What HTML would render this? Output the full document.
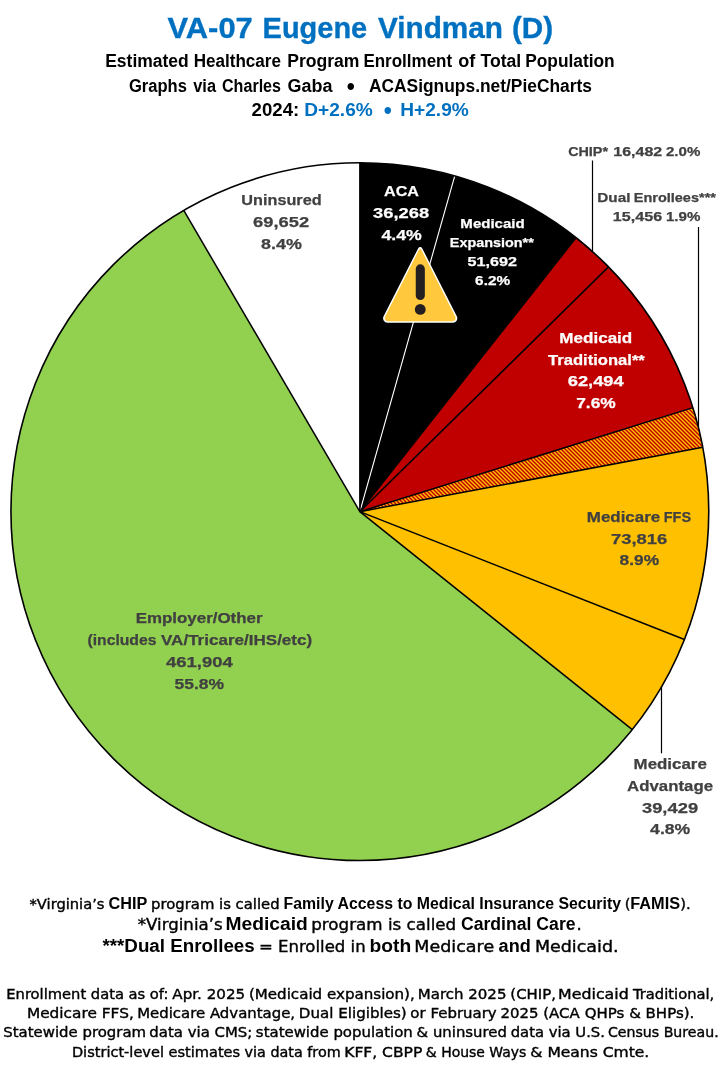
<!DOCTYPE html>
<html><head><meta charset="utf-8"><title>VA-07 Eugene Vindman (D)</title>
<style>
html,body{margin:0;padding:0;background:#fff}
svg{display:block;will-change:transform;font-family:"Liberation Sans",sans-serif}
text.b{font-weight:bold;font-family:"Liberation Sans",sans-serif}
text.r{font-weight:normal;font-family:"DejaVu Sans","Liberation Sans",sans-serif}
</style></head><body>
<svg width="720" height="1070" viewBox="0 0 720 1070">
<rect width="720" height="1070" fill="#fff"/>
<path d="M359.85 511.65L359.85 162.75A348.9 348.9 0 0 1 454.76 175.91Z" fill="#000"/>
<path d="M359.85 511.65L454.76 175.91A348.9 348.9 0 0 1 576.00 237.77Z" fill="#000"/>
<path d="M359.85 511.65L576.00 237.77A348.9 348.9 0 0 1 608.51 266.90Z" fill="#C00000"/>
<path d="M359.85 511.65L608.51 266.90A348.9 348.9 0 0 1 692.88 407.62Z" fill="#C00000"/>
<path d="M359.85 511.65L692.88 407.62A348.9 348.9 0 0 1 702.77 447.34Z" fill="#FFC000"/>
<path d="M359.85 511.65L702.77 447.34A348.9 348.9 0 0 1 684.46 639.54Z" fill="#FFC000"/>
<path d="M359.85 511.65L684.46 639.54A348.9 348.9 0 0 1 632.28 729.62Z" fill="#FFC000"/>
<path d="M359.85 511.65L632.28 729.62A348.9 348.9 0 1 1 183.75 210.45Z" fill="#92D050"/>
<path d="M359.85 511.65L183.75 210.45A348.9 348.9 0 0 1 359.85 162.75Z" fill="#fff"/>
<clipPath id="hc"><path d="M359.85 511.65L692.88 407.62A348.9 348.9 0 0 1 702.77 447.34Z"/></clipPath><path clip-path="url(#hc)" d="M355.9 511.9L360.0 516.0M355.9 507.9L364.0 516.0M355.9 503.9L368.0 516.0M355.9 499.9L372.0 516.0M355.9 495.9L376.0 516.0M355.9 491.9L380.0 516.0M355.9 487.9L384.0 516.0M355.9 483.9L388.0 516.0M355.9 479.9L392.0 516.0M355.9 475.9L396.0 516.0M355.9 471.9L400.0 516.0M355.9 467.9L404.0 516.0M355.9 463.9L408.0 516.0M355.9 459.9L412.0 516.0M355.9 455.9L416.0 516.0M355.9 451.9L420.0 516.0M355.9 447.9L424.0 516.0M355.9 443.9L428.0 516.0M355.9 439.9L432.0 516.0M355.9 435.9L436.0 516.0M355.9 431.9L440.0 516.0M355.9 427.9L444.0 516.0M355.9 423.9L448.0 516.0M355.9 419.9L452.0 516.0M355.9 415.9L456.0 516.0M355.9 411.9L460.0 516.0M355.9 407.9L464.0 516.0M357.0 405.0L468.0 516.0M361.0 405.0L472.0 516.0M365.0 405.0L476.0 516.0M369.0 405.0L480.0 516.0M373.0 405.0L484.0 516.0M377.0 405.0L488.0 516.0M381.0 405.0L492.0 516.0M385.0 405.0L496.0 516.0M389.0 405.0L500.0 516.0M393.0 405.0L504.0 516.0M397.0 405.0L508.0 516.0M401.0 405.0L512.0 516.0M405.0 405.0L516.0 516.0M409.0 405.0L520.0 516.0M413.0 405.0L524.0 516.0M417.0 405.0L528.0 516.0M421.0 405.0L532.0 516.0M425.0 405.0L536.0 516.0M429.0 405.0L540.0 516.0M433.0 405.0L544.0 516.0M437.0 405.0L548.0 516.0M441.0 405.0L552.0 516.0M445.0 405.0L556.0 516.0M449.0 405.0L560.0 516.0M453.0 405.0L564.0 516.0M457.0 405.0L568.0 516.0M461.0 405.0L572.0 516.0M465.0 405.0L576.0 516.0M469.0 405.0L580.0 516.0M473.0 405.0L584.0 516.0M477.0 405.0L588.0 516.0M481.0 405.0L592.0 516.0M485.0 405.0L596.0 516.0M489.0 405.0L600.0 516.0M493.0 405.0L604.0 516.0M497.0 405.0L608.0 516.0M501.0 405.0L612.0 516.0M505.0 405.0L616.0 516.0M509.0 405.0L620.0 516.0M513.0 405.0L624.0 516.0M517.0 405.0L628.0 516.0M521.0 405.0L632.0 516.0M525.0 405.0L636.0 516.0M529.0 405.0L640.0 516.0M533.0 405.0L644.0 516.0M537.0 405.0L648.0 516.0M541.0 405.0L652.0 516.0M545.0 405.0L656.0 516.0M549.0 405.0L660.0 516.0M553.0 405.0L664.0 516.0M557.0 405.0L668.0 516.0M561.0 405.0L672.0 516.0M565.0 405.0L676.0 516.0M569.0 405.0L680.0 516.0M573.0 405.0L684.0 516.0M577.0 405.0L688.0 516.0M581.0 405.0L692.0 516.0M585.0 405.0L696.0 516.0M589.0 405.0L700.0 516.0M593.0 405.0L704.0 516.0M597.0 405.0L708.0 516.0M601.0 405.0L712.0 516.0M605.0 405.0L712.0 512.0M609.0 405.0L712.0 508.0M613.0 405.0L712.0 504.0M617.0 405.0L712.0 500.0M621.0 405.0L712.0 496.0M625.0 405.0L712.0 492.0M629.0 405.0L712.0 488.0M633.0 405.0L712.0 484.0M637.0 405.0L712.0 480.0M641.0 405.0L712.0 476.0M645.0 405.0L712.0 472.0M649.0 405.0L712.0 468.0M653.0 405.0L712.0 464.0M657.0 405.0L712.0 460.0M661.0 405.0L712.0 456.0M665.0 405.0L712.0 452.0M669.0 405.0L712.0 448.0M673.0 405.0L712.0 444.0M677.0 405.0L712.0 440.0M681.0 405.0L712.0 436.0M685.0 405.0L712.0 432.0M689.0 405.0L712.0 428.0M693.0 405.0L712.0 424.0M697.0 405.0L712.0 420.0M701.0 405.0L712.0 416.0M705.0 405.0L712.0 412.0" stroke="#C00000" stroke-width="1.414" fill="none"/>
<line x1="359.85" y1="511.65" x2="454.76" y2="175.91" stroke="#fff" stroke-width="1.1"/>
<line x1="359.85" y1="511.65" x2="576.00" y2="237.77" stroke="#000" stroke-width="1.5"/>
<line x1="359.85" y1="511.65" x2="608.51" y2="266.90" stroke="#000" stroke-width="1.5"/>
<line x1="359.85" y1="511.65" x2="692.88" y2="407.62" stroke="#000" stroke-width="1.5"/>
<line x1="359.85" y1="511.65" x2="702.77" y2="447.34" stroke="#000" stroke-width="1.5"/>
<line x1="359.85" y1="511.65" x2="684.46" y2="639.54" stroke="#000" stroke-width="1.5"/>
<line x1="359.85" y1="511.65" x2="632.28" y2="729.62" stroke="#000" stroke-width="1.5"/>
<line x1="359.85" y1="511.65" x2="183.75" y2="210.45" stroke="#000" stroke-width="1.5"/>
<line x1="359.85" y1="511.65" x2="359.85" y2="162.75" stroke="#000" stroke-width="1.5"/>
<circle cx="359.85" cy="511.65" r="348.9" fill="none" stroke="#000" stroke-width="1.6"/>
<line x1="592.5" y1="160.5" x2="592.5" y2="251" stroke="#000" stroke-width="1.2"/>
<line x1="698.5" y1="227" x2="698.5" y2="428" stroke="#000" stroke-width="1.2"/>
<line x1="661.5" y1="686.5" x2="661.5" y2="753.3" stroke="#000" stroke-width="1.2"/>
<g>
<path d="M418.24 248.16A2.2 2.2 0 0 1 422.16 248.16L456.81 316.36A4.4 4.4 0 0 1 452.88 322.75L387.52 322.75A4.4 4.4 0 0 1 383.59 316.36Z" fill="#fff"/>
<path d="M419.04 249.68A1.3 1.3 0 0 1 421.36 249.68L455.26 316.41A3.4 3.4 0 0 1 452.23 321.35L388.17 321.35A3.4 3.4 0 0 1 385.14 316.41Z" fill="#FFC83D"/>
<rect x="415.75" y="264.3" width="9.1" height="35.7" rx="4.55" fill="#231F20"/>
<circle cx="420.25" cy="309.4" r="5.4" fill="#231F20"/>
</g>
<text class="b" x="167.46" y="37.8" font-size="30" fill="#0070C0" stroke="#0070C0" stroke-width="0.35" textLength="85.31" lengthAdjust="spacingAndGlyphs">VA-07</text>
<text class="b" x="262.61" y="37.8" font-size="30" fill="#0070C0" stroke="#0070C0" stroke-width="0.35" textLength="104.55" lengthAdjust="spacingAndGlyphs">Eugene</text>
<text class="b" x="377.90" y="37.8" font-size="30" fill="#0070C0" stroke="#0070C0" stroke-width="0.35" textLength="125.12" lengthAdjust="spacingAndGlyphs">Vindman</text>
<text class="b" x="511.93" y="37.8" font-size="30" fill="#0070C0" stroke="#0070C0" stroke-width="0.35" textLength="41.16" lengthAdjust="spacingAndGlyphs">(D)</text>
<text class="b" x="105.17" y="66.75" font-size="18" fill="#000" textLength="83.64" lengthAdjust="spacingAndGlyphs">Estimated</text>
<text class="b" x="193.63" y="66.75" font-size="18" fill="#000" textLength="87.37" lengthAdjust="spacingAndGlyphs">Healthcare</text>
<text class="b" x="287.16" y="66.75" font-size="18" fill="#000" textLength="72.32" lengthAdjust="spacingAndGlyphs">Program</text>
<text class="b" x="363.41" y="66.75" font-size="18" fill="#000" textLength="88.75" lengthAdjust="spacingAndGlyphs">Enrollment</text>
<text class="b" x="458.33" y="66.75" font-size="18" fill="#000">of</text>
<text class="b" x="480.45" y="66.75" font-size="18" fill="#000" textLength="40.75" lengthAdjust="spacingAndGlyphs">Total</text>
<text class="b" x="525.18" y="66.75" font-size="18" fill="#000" textLength="89.55" lengthAdjust="spacingAndGlyphs">Population</text>
<text class="b" x="128.96" y="91.7" font-size="18" fill="#000" textLength="57.91" lengthAdjust="spacingAndGlyphs">Graphs</text>
<text class="b" x="193.29" y="91.7" font-size="18" fill="#000" textLength="22.70" lengthAdjust="spacingAndGlyphs">via</text>
<text class="b" x="221.99" y="91.7" font-size="18" fill="#000" textLength="59.03" lengthAdjust="spacingAndGlyphs">Charles</text>
<text class="b" x="287.55" y="91.7" font-size="18" fill="#000" textLength="44.89" lengthAdjust="spacingAndGlyphs">Gaba</text>
<text class="b" x="346.87" y="95.0" font-size="23" fill="#000">•</text>
<text class="b" x="368.94" y="91.7" font-size="18" fill="#000" textLength="223.06" lengthAdjust="spacingAndGlyphs">ACASignups.net/PieCharts</text>
<text class="b" x="251.64" y="116" font-size="18" fill="#000" textLength="47.57" lengthAdjust="spacingAndGlyphs">2024:</text>
<text class="b" x="304.33" y="116" font-size="18" fill="#0070C0" textLength="68.43" lengthAdjust="spacingAndGlyphs">D+2.6%</text>
<text class="b" x="383.65" y="119.3" font-size="23" fill="#0070C0">•</text>
<text class="b" x="400.26" y="116" font-size="18" fill="#0070C0" textLength="68.56" lengthAdjust="spacingAndGlyphs">H+2.9%</text>
<text class="b" x="241.33" y="205" font-size="15.5" fill="#404040" stroke="#404040" stroke-width="0.25" textLength="80.28" lengthAdjust="spacingAndGlyphs">Uninsured</text>
<text class="b" x="253.09" y="226.6" font-size="15.5" fill="#404040" stroke="#404040" stroke-width="0.25" textLength="56.03" lengthAdjust="spacingAndGlyphs">69,652</text>
<text class="b" x="261.07" y="248.6" font-size="15.5" fill="#404040" stroke="#404040" stroke-width="0.25" textLength="40.72" lengthAdjust="spacingAndGlyphs">8.4%</text>
<text class="b" x="384.10" y="195.9" font-size="15.5" fill="#fff" stroke="#fff" stroke-width="0.25" textLength="34.81" lengthAdjust="spacingAndGlyphs">ACA</text>
<text class="b" x="373.08" y="217.8" font-size="15.5" fill="#fff" stroke="#fff" stroke-width="0.25" textLength="56.04" lengthAdjust="spacingAndGlyphs">36,268</text>
<text class="b" x="381.42" y="239.8" font-size="15.5" fill="#fff" stroke="#fff" stroke-width="0.25" textLength="40.30" lengthAdjust="spacingAndGlyphs">4.4%</text>
<text class="b" x="460.39" y="227.9" font-size="13.5" fill="#fff" stroke="#fff" stroke-width="0.25" textLength="64.33" lengthAdjust="spacingAndGlyphs">Medicaid</text>
<text class="b" x="449.80" y="246.7" font-size="13.5" fill="#fff" stroke="#fff" stroke-width="0.25" textLength="83.99" lengthAdjust="spacingAndGlyphs">Expansion**</text>
<text class="b" x="467.60" y="265.8" font-size="13.5" fill="#fff" stroke="#fff" stroke-width="0.25" textLength="49.50" lengthAdjust="spacingAndGlyphs">51,692</text>
<text class="b" x="475.08" y="284.75" font-size="13.5" fill="#fff" stroke="#fff" stroke-width="0.25" textLength="35.05" lengthAdjust="spacingAndGlyphs">6.2%</text>
<text class="b" x="568.15" y="155.8" font-size="13.5" fill="#404040" stroke="#404040" stroke-width="0.25" textLength="39.86" lengthAdjust="spacingAndGlyphs">CHIP*</text>
<text class="b" x="613.36" y="155.8" font-size="13.5" fill="#404040" stroke="#404040" stroke-width="0.25" textLength="48.84" lengthAdjust="spacingAndGlyphs">16,482</text>
<text class="b" x="665.99" y="155.8" font-size="13.5" fill="#404040" stroke="#404040" stroke-width="0.25" textLength="34.40" lengthAdjust="spacingAndGlyphs">2.0%</text>
<text class="b" x="597.32" y="201.9" font-size="13.5" fill="#404040" stroke="#404040" stroke-width="0.25" textLength="33.13" lengthAdjust="spacingAndGlyphs">Dual</text>
<text class="b" x="633.78" y="201.9" font-size="13.5" fill="#404040" stroke="#404040" stroke-width="0.25" textLength="82.15" lengthAdjust="spacingAndGlyphs">Enrollees***</text>
<text class="b" x="612.85" y="220.8" font-size="13.5" fill="#404040" stroke="#404040" stroke-width="0.25" textLength="49.36" lengthAdjust="spacingAndGlyphs">15,456</text>
<text class="b" x="665.93" y="220.8" font-size="13.5" fill="#404040" stroke="#404040" stroke-width="0.25" textLength="34.44" lengthAdjust="spacingAndGlyphs">1.9%</text>
<text class="b" x="559.31" y="342.9" font-size="15.5" fill="#fff" stroke="#fff" stroke-width="0.25" textLength="72.98" lengthAdjust="spacingAndGlyphs">Medicaid</text>
<text class="b" x="548.00" y="364.8" font-size="15.5" fill="#fff" stroke="#fff" stroke-width="0.25" textLength="96.83" lengthAdjust="spacingAndGlyphs">Traditional**</text>
<text class="b" x="567.73" y="386.4" font-size="15.5" fill="#fff" stroke="#fff" stroke-width="0.25" textLength="56.00" lengthAdjust="spacingAndGlyphs">62,494</text>
<text class="b" x="576.24" y="408.4" font-size="15.5" fill="#fff" stroke="#fff" stroke-width="0.25" textLength="39.52" lengthAdjust="spacingAndGlyphs">7.6%</text>
<text class="b" x="586.86" y="521.8" font-size="15.5" fill="#404040" stroke="#404040" stroke-width="0.25" textLength="73.30" lengthAdjust="spacingAndGlyphs">Medicare</text>
<text class="b" x="663.73" y="521.8" font-size="15.5" fill="#404040" stroke="#404040" stroke-width="0.25" textLength="27.33" lengthAdjust="spacingAndGlyphs">FFS</text>
<text class="b" x="611.04" y="543.6" font-size="15.5" fill="#404040" stroke="#404040" stroke-width="0.25" textLength="56.32" lengthAdjust="spacingAndGlyphs">73,816</text>
<text class="b" x="619.55" y="565.4" font-size="15.5" fill="#404040" stroke="#404040" stroke-width="0.25" textLength="39.53" lengthAdjust="spacingAndGlyphs">8.9%</text>
<text class="b" x="633.60" y="768.9" font-size="15.5" fill="#404040" stroke="#404040" stroke-width="0.25" textLength="73.20" lengthAdjust="spacingAndGlyphs">Medicare</text>
<text class="b" x="627.14" y="790.6" font-size="15.5" fill="#404040" stroke="#404040" stroke-width="0.25" textLength="85.88" lengthAdjust="spacingAndGlyphs">Advantage</text>
<text class="b" x="641.94" y="812.6" font-size="15.5" fill="#404040" stroke="#404040" stroke-width="0.25" textLength="56.19" lengthAdjust="spacingAndGlyphs">39,429</text>
<text class="b" x="650.11" y="834" font-size="15.5" fill="#404040" stroke="#404040" stroke-width="0.25" textLength="40.04" lengthAdjust="spacingAndGlyphs">4.8%</text>
<text class="b" x="135.65" y="622.75" font-size="15.5" fill="#404040" stroke="#404040" stroke-width="0.25" textLength="126.88" lengthAdjust="spacingAndGlyphs">Employer/Other</text>
<text class="b" x="87.45" y="645" font-size="15.5" fill="#404040" stroke="#404040" stroke-width="0.25" textLength="68.99" lengthAdjust="spacingAndGlyphs">(includes</text>
<text class="b" x="161.00" y="645" font-size="15.5" fill="#404040" stroke="#404040" stroke-width="0.25" textLength="151.18" lengthAdjust="spacingAndGlyphs">VA/Tricare/IHS/etc)</text>
<text class="b" x="166.00" y="666.7" font-size="15.5" fill="#404040" stroke="#404040" stroke-width="0.25" textLength="66.79" lengthAdjust="spacingAndGlyphs">461,904</text>
<text class="b" x="174.48" y="689" font-size="15.5" fill="#404040" stroke="#404040" stroke-width="0.25" textLength="49.53" lengthAdjust="spacingAndGlyphs">55.8%</text>
<text class="r" x="29.49" y="908.8" font-size="14.7" fill="#000" stroke="#000" stroke-width="0.4" textLength="75.04" lengthAdjust="spacingAndGlyphs">*Virginia’s</text>
<text class="b" x="108.51" y="908.8" font-size="15.6" fill="#000" textLength="38.76" lengthAdjust="spacingAndGlyphs">CHIP</text>
<text class="r" x="151.06" y="908.8" font-size="14.7" fill="#000" stroke="#000" stroke-width="0.4" textLength="128.61" lengthAdjust="spacingAndGlyphs">program is called</text>
<text class="b" x="283.54" y="908.8" font-size="15.6" fill="#000" textLength="337.46" lengthAdjust="spacingAndGlyphs">Family Access to Medical Insurance Security</text>
<text class="r" x="624.71" y="908.8" font-size="14.7" fill="#000" stroke="#000" stroke-width="0.4">(</text>
<text class="b" x="630.30" y="908.8" font-size="15.6" fill="#000" textLength="49.75" lengthAdjust="spacingAndGlyphs">FAMIS</text>
<text class="r" x="680.32" y="908.8" font-size="14.7" fill="#000" stroke="#000" stroke-width="0.4">).</text>
<text class="r" x="137.74" y="929.8" font-size="16.5" fill="#000" stroke="#000" stroke-width="0.4" textLength="84.90" lengthAdjust="spacingAndGlyphs">*Virginia’s</text>
<text class="b" x="225.43" y="929.8" font-size="17.5" fill="#000" textLength="82.38" lengthAdjust="spacingAndGlyphs">Medicaid</text>
<text class="r" x="311.22" y="929.8" font-size="16.5" fill="#000" stroke="#000" stroke-width="0.4" textLength="144.95" lengthAdjust="spacingAndGlyphs">program is called</text>
<text class="b" x="460.95" y="929.8" font-size="17.5" fill="#000" textLength="114.62" lengthAdjust="spacingAndGlyphs">Cardinal Care</text>
<text class="r" x="576.50" y="929.8" font-size="16.5" fill="#000" stroke="#000" stroke-width="0.4">.</text>
<text class="b" x="102.47" y="951.7" font-size="17.5" fill="#000" textLength="152.21" lengthAdjust="spacingAndGlyphs">***Dual Enrollees</text>
<text class="r" x="258.95" y="951.7" font-size="16.5" fill="#000" stroke="#000" stroke-width="0.4" textLength="106.68" lengthAdjust="spacingAndGlyphs">= Enrolled in</text>
<text class="b" x="369.48" y="951.7" font-size="17.5" fill="#000" textLength="41.67" lengthAdjust="spacingAndGlyphs">both</text>
<text class="r" x="414.37" y="951.7" font-size="16.5" fill="#000" stroke="#000" stroke-width="0.4" textLength="79.83" lengthAdjust="spacingAndGlyphs">Medicare</text>
<text class="b" x="498.59" y="951.7" font-size="17.5" fill="#000" textLength="32.17" lengthAdjust="spacingAndGlyphs">and</text>
<text class="r" x="534.93" y="951.7" font-size="16.5" fill="#000" stroke="#000" stroke-width="0.4" textLength="83.67" lengthAdjust="spacingAndGlyphs">Medicaid.</text>
<text class="r" x="6.31" y="999" font-size="14.7" fill="#000" stroke="#000" stroke-width="0.4" textLength="162.15" lengthAdjust="spacingAndGlyphs">Enrollment data as of:</text>
<text class="r" x="172.39" y="999" font-size="14.7" fill="#000" stroke="#000" stroke-width="0.4" textLength="72.75" lengthAdjust="spacingAndGlyphs">Apr. 2025</text>
<text class="r" x="248.90" y="999" font-size="14.7" fill="#000" stroke="#000" stroke-width="0.4" textLength="165.92" lengthAdjust="spacingAndGlyphs">(Medicaid expansion),</text>
<text class="r" x="417.81" y="999" font-size="14.7" fill="#000" stroke="#000" stroke-width="0.4" textLength="88.63" lengthAdjust="spacingAndGlyphs">March 2025</text>
<text class="r" x="510.36" y="999" font-size="14.7" fill="#000" stroke="#000" stroke-width="0.4" textLength="45.59" lengthAdjust="spacingAndGlyphs">(CHIP,</text>
<text class="r" x="558.10" y="999" font-size="14.7" fill="#000" stroke="#000" stroke-width="0.4" textLength="70.64" lengthAdjust="spacingAndGlyphs">Medicaid</text>
<text class="r" x="633.01" y="999" font-size="14.7" fill="#000" stroke="#000" stroke-width="0.4" textLength="81.22" lengthAdjust="spacingAndGlyphs">Traditional,</text>
<text class="r" x="26.90" y="1017.7" font-size="14.7" fill="#000" stroke="#000" stroke-width="0.4" textLength="106.88" lengthAdjust="spacingAndGlyphs">Medicare FFS,</text>
<text class="r" x="137.23" y="1017.7" font-size="14.7" fill="#000" stroke="#000" stroke-width="0.4" textLength="157.89" lengthAdjust="spacingAndGlyphs">Medicare Advantage,</text>
<text class="r" x="298.80" y="1017.7" font-size="14.7" fill="#000" stroke="#000" stroke-width="0.4" textLength="107.92" lengthAdjust="spacingAndGlyphs">Dual Eligibles)</text>
<text class="r" x="410.39" y="1017.7" font-size="14.7" fill="#000" stroke="#000" stroke-width="0.4" textLength="86.34" lengthAdjust="spacingAndGlyphs">or February</text>
<text class="r" x="500.46" y="1017.7" font-size="14.7" fill="#000" stroke="#000" stroke-width="0.4" textLength="79.14" lengthAdjust="spacingAndGlyphs">2025 (ACA</text>
<text class="r" x="584.83" y="1017.7" font-size="14.7" fill="#000" stroke="#000" stroke-width="0.4" textLength="109.46" lengthAdjust="spacingAndGlyphs">QHPs &amp; BHPs).</text>
<text class="r" x="3.30" y="1036.7" font-size="14.7" fill="#000" stroke="#000" stroke-width="0.4" textLength="142.80" lengthAdjust="spacingAndGlyphs">Statewide program</text>
<text class="r" x="149.39" y="1036.7" font-size="14.7" fill="#000" stroke="#000" stroke-width="0.4" textLength="102.90" lengthAdjust="spacingAndGlyphs">data via CMS;</text>
<text class="r" x="255.89" y="1036.7" font-size="14.7" fill="#000" stroke="#000" stroke-width="0.4" textLength="156.90" lengthAdjust="spacingAndGlyphs">statewide population</text>
<text class="r" x="416.64" y="1036.7" font-size="14.7" fill="#000" stroke="#000" stroke-width="0.4" textLength="90.28" lengthAdjust="spacingAndGlyphs">&amp; uninsured</text>
<text class="r" x="510.71" y="1036.7" font-size="14.7" fill="#000" stroke="#000" stroke-width="0.4" textLength="94.24" lengthAdjust="spacingAndGlyphs">data via U.S.</text>
<text class="r" x="607.92" y="1036.7" font-size="14.7" fill="#000" stroke="#000" stroke-width="0.4" textLength="110.72" lengthAdjust="spacingAndGlyphs">Census Bureau.</text>
<text class="r" x="71.90" y="1056.7" font-size="14.7" fill="#000" stroke="#000" stroke-width="0.4" textLength="168.25" lengthAdjust="spacingAndGlyphs">District-level estimates</text>
<text class="r" x="244.60" y="1056.7" font-size="14.7" fill="#000" stroke="#000" stroke-width="0.4" textLength="96.12" lengthAdjust="spacingAndGlyphs">via data from</text>
<text class="r" x="344.22" y="1056.7" font-size="14.7" fill="#000" stroke="#000" stroke-width="0.4" textLength="78.09" lengthAdjust="spacingAndGlyphs">KFF, CBPP</text>
<text class="r" x="425.84" y="1056.7" font-size="14.7" fill="#000" stroke="#000" stroke-width="0.4" textLength="100.54" lengthAdjust="spacingAndGlyphs">&amp; House Ways</text>
<text class="r" x="530.35" y="1056.7" font-size="14.7" fill="#000" stroke="#000" stroke-width="0.4" textLength="118.97" lengthAdjust="spacingAndGlyphs">&amp; Means Cmte.</text>
</svg>
</body></html>
